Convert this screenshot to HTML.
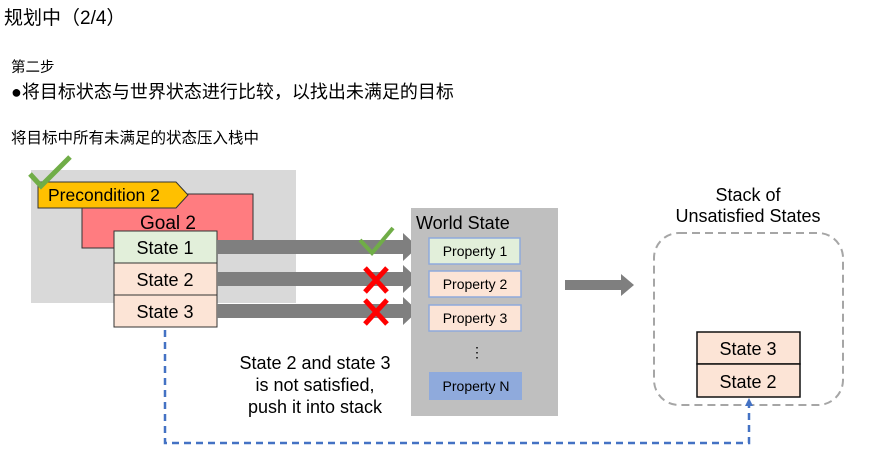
<!DOCTYPE html>
<html><head><meta charset="utf-8"><style>
html,body{margin:0;padding:0;background:#fff;width:874px;height:453px;overflow:hidden}
svg{display:block}
text{font-family:"Liberation Sans","Noto Sans CJK SC",sans-serif;fill:#000}
</style></head><body>
<svg width="874" height="453" viewBox="0 0 874 453" xmlns="http://www.w3.org/2000/svg">
<text x="4" y="24" font-size="19">规划中（2/4）</text>
<text x="11" y="72" font-size="14.5">第二步</text>
<text x="11" y="98" font-size="18">●将目标状态与世界状态进行比较，以找出未满足的目标</text>
<text x="11" y="143" font-size="15.5">将目标中所有未满足的状态压入栈中</text>

<rect x="31" y="170" width="265" height="133" fill="#d9d9d9"/>
<rect x="82" y="194" width="171" height="54" fill="#ff7c80" stroke="#333" stroke-width="1"/>
<text x="168" y="229" font-size="19" text-anchor="middle">Goal 2</text>
<polygon points="38,182 176,182 188,195 176,208 38,208" fill="#ffc000" stroke="#333" stroke-width="1"/>
<text x="48" y="201" font-size="17.5">Precondition 2</text>
<polyline points="30,174 41,186 70,157" fill="none" stroke="#70ad47" stroke-width="5"/>

<rect x="114" y="231" width="103" height="32" fill="#e2efda" stroke="#333"/>
<rect x="114" y="263" width="103" height="32" fill="#fce4d6" stroke="#333"/>
<rect x="114" y="295" width="103" height="32" fill="#fce4d6" stroke="#333"/>
<text x="165" y="254" font-size="18" text-anchor="middle">State 1</text>
<text x="165" y="286" font-size="18" text-anchor="middle">State 2</text>
<text x="165" y="318" font-size="18" text-anchor="middle">State 3</text>

<g fill="#7f7f7f">
<polygon points="217,240 403,240 403,233 418,247 403,261 403,254 217,254"/>
<polygon points="217,272 403,272 403,265 418,279 403,293 403,286 217,286"/>
<polygon points="217,304 403,304 403,297 418,311 403,325 403,318 217,318"/>
<polygon points="565,280 621,280 621,274 634,285 621,296 621,290 565,290"/>
</g>
<polyline points="360,240 372,253 393,228" fill="none" stroke="#70ad47" stroke-width="4"/>
<g stroke="#ff0000" stroke-width="5">
<line x1="365" y1="268" x2="387" y2="292"/><line x1="387" y1="268" x2="365" y2="292"/>
<line x1="365" y1="300" x2="387" y2="324"/><line x1="387" y1="300" x2="365" y2="324"/>
</g>

<rect x="411" y="208" width="147" height="208" fill="#bfbfbf"/>
<text x="416" y="229" font-size="18">World State</text>
<rect x="429" y="238" width="91" height="26" fill="#e2efda" stroke="#8faadc" stroke-width="1.5"/>
<rect x="429" y="271" width="92" height="26" fill="#fce4d6" stroke="#8faadc" stroke-width="1.5"/>
<rect x="429" y="305" width="92" height="26" fill="#fce4d6" stroke="#8faadc" stroke-width="1.5"/>
<rect x="429" y="372" width="93" height="28" fill="#8faadc"/>
<text x="475" y="256" font-size="14" text-anchor="middle">Property 1</text>
<text x="475" y="289" font-size="14" text-anchor="middle">Property 2</text>
<text x="475" y="323" font-size="14" text-anchor="middle">Property 3</text>
<text x="476" y="391" font-size="14" text-anchor="middle">Property N</text>
<text x="477" y="357" font-size="14" text-anchor="middle">⋮</text>

<text x="315" y="369" font-size="18" text-anchor="middle">State 2 and state 3</text>
<text x="315" y="391" font-size="18" text-anchor="middle">is not satisfied,</text>
<text x="315" y="413" font-size="18" text-anchor="middle">push it into stack</text>

<text x="748" y="201" font-size="18" text-anchor="middle">Stack of</text>
<text x="748" y="222" font-size="18" text-anchor="middle">Unsatisfied States</text>
<rect x="654" y="233" width="189" height="172" rx="25" fill="none" stroke="#a6a6a6" stroke-width="2" stroke-dasharray="8,5"/>
<rect x="697" y="332" width="103" height="32" fill="#fce4d6" stroke="#111" stroke-width="1.5"/>
<rect x="697" y="364" width="103" height="33" fill="#fce4d6" stroke="#111" stroke-width="1.5"/>
<text x="748" y="355" font-size="18" text-anchor="middle">State 3</text>
<text x="748" y="388" font-size="18" text-anchor="middle">State 2</text>

<polyline points="165,330 165,443 749,443 749,405" fill="none" stroke="#4472c4" stroke-width="2.5" stroke-dasharray="7,5"/>
<polygon points="745,406 753,406 749,398" fill="#4472c4"/>
</svg>
</body></html>
